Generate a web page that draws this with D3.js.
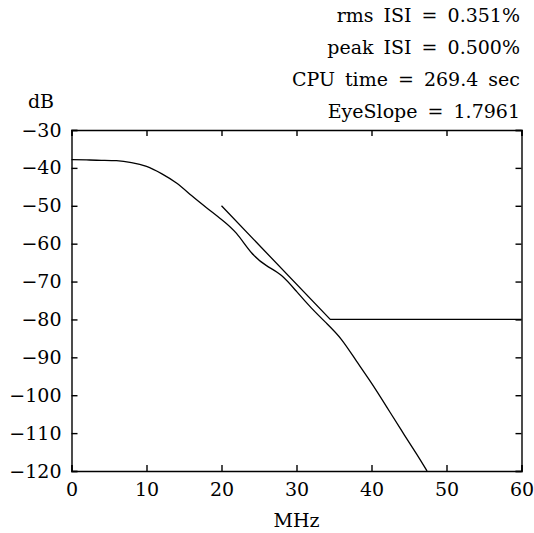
<!DOCTYPE html>
<html>
<head>
<meta charset="utf-8">
<script src="https://cdn.jsdelivr.net/npm/d3@7"></script>
<style>
  body { margin: 0; background: #fff; }
  text { font-family: "DejaVu Serif", serif; font-size: 19px; fill: #000; }
</style>
</head>
<body>
<script>
// channel response (MHz, dB)
const freq = [0, 2, 4, 6, 8, 10, 12, 14, 16, 18, 20, 22, 24, 26, 28, 30, 32, 34, 36, 38, 40, 42, 44, 46, 47.4];
const response = [-37.8, -37.9, -38, -38.1, -38.6, -39.6, -41.5, -44, -47.3, -50.5, -53.6, -57.3, -62.4, -65.8, -68.4, -72.6, -77, -81, -85.3, -91, -96.8, -103, -109.3, -115.5, -120];
// spectral mask line
const maskFreq = [20, 34.5, 60];
const maskDb = [-50, -80, -80];

const xTicks = [0, 10, 20, 30, 40, 50, 60];
const yTicks = [-30, -40, -50, -60, -70, -80, -90, -100, -110, -120];
const notes = ["rms ISI = 0.351%", "peak ISI = 0.500%", "CPU time = 269.4 sec", "EyeSlope = 1.7961"];

const W = 534, H = 533;
const m = { left: 71.5, right: 12.5, top: 130, bottom: 62 };
const font = '"DejaVu Serif", serif';

const svg = d3.select('body').append('svg')
  .attr('width', W)
  .attr('height', H);

const x = d3.scaleLinear().domain([0, 60]).range([m.left, W - m.right]);
const y = d3.scaleLinear().domain([-120, -30]).range([H - m.bottom, m.top]);

const minus = d => d < 0 ? "\u2212" + Math.abs(d) : String(d);

// axes, ticks pointing inward on all four sides
svg.append('g')
  .attr('transform', `translate(0,${y(-120)})`)
  .call(d3.axisBottom(x).tickValues(xTicks).tickSize(-6).tickPadding(12).tickFormat(minus));
svg.append('g')
  .attr('transform', `translate(0,${y(-30)})`)
  .call(d3.axisTop(x).tickValues(xTicks).tickSize(-6).tickFormat(''));
svg.append('g')
  .attr('transform', `translate(${x(0)},0)`)
  .call(d3.axisLeft(y).tickValues(yTicks).tickSize(-6).tickPadding(10).tickFormat(minus));
svg.append('g')
  .attr('transform', `translate(${x(60)},0)`)
  .call(d3.axisRight(y).tickValues(yTicks).tickSize(-6).tickFormat(''));

svg.selectAll('.domain, .tick line').attr('stroke', '#000').attr('stroke-width', 1.4);
svg.selectAll('.tick text').style('font-family', font).style('font-size', '19px');

const line = d3.line().x(d => x(d[0])).y(d => y(d[1]));
const lineSmooth = d3.line().curve(d3.curveNatural).x(d => x(d[0])).y(d => y(d[1]));

svg.append('path')
  .datum(freq.map((f, i) => [f, response[i]]))
  .attr('d', lineSmooth)
  .attr('fill', 'none').attr('stroke', '#000').attr('stroke-width', 1.3);

svg.append('path')
  .datum(maskFreq.map((f, i) => [f, maskDb[i]]))
  .attr('d', line)
  .attr('fill', 'none').attr('stroke', '#000').attr('stroke-width', 1.3);

// labels
svg.append('text').attr('x', 41).attr('y', 108).attr('text-anchor', 'middle').text('dB');
svg.append('text').attr('x', (x(0) + x(60)) / 2).attr('y', 527).attr('text-anchor', 'middle').text('MHz');

svg.selectAll('.note')
  .data(notes)
  .enter()
  .append('text')
  .attr('class', 'note')
  .attr('x', 520)
  .attr('y', (d, i) => 22 + i * 32)
  .attr('text-anchor', 'end')
  .style('word-spacing', '4px')
  .text(d => d);
</script>
</body>
</html>
